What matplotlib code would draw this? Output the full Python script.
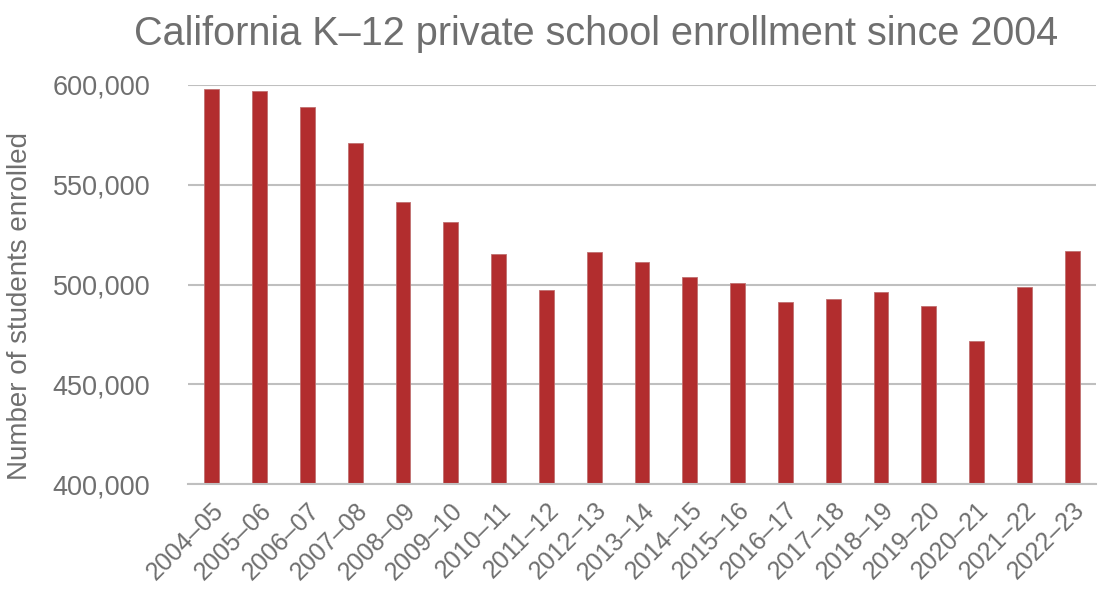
import numpy as np
import matplotlib
matplotlib.use("Agg")
import matplotlib.pyplot as plt
from matplotlib.ticker import FuncFormatter

# School years and total private school enrollment
years = ["2004–05", "2005–06", "2006–07", "2007–08", "2008–09", "2009–10",
         "2010–11", "2011–12", "2012–13", "2013–14", "2014–15", "2015–16",
         "2016–17", "2017–18", "2018–19", "2019–20", "2020–21", "2021–22",
         "2022–23"]
enrollment = [598000, 597000, 589100, 570800, 541200, 531200,
              515200, 497100, 516300, 511300, 503800, 500700,
              491300, 492600, 496100, 489100, 471700, 498600,
              516800]

TEXT = "#6f6f6f"
BAR = "#b22d2e"
GRID = "#bfbfbf"

plt.rcParams["font.family"] = ["Liberation Sans", "DejaVu Sans"]

fig = plt.figure(figsize=(10.98, 5.89), dpi=100)
ax = fig.add_axes([0.1712, 0.178, 0.827, 0.6778])

x = np.arange(len(years))
ax.bar(x, enrollment, width=0.31, color=BAR, edgecolor="#c07070",
       linewidth=0.6, zorder=3)

ax.set_xlim(-0.5, len(years) - 0.5)
ax.set_ylim(400000, 600000)
ax.set_yticks(np.arange(400000, 600001, 50000))
ax.yaxis.set_major_formatter(FuncFormatter(lambda v, p: f"{int(v):,}"))

ax.grid(axis="y", color=GRID, linewidth=1.5, zorder=0)
for side in ["top", "right", "left"]:
    ax.spines[side].set_visible(False)
ax.spines["bottom"].set_color(GRID)
ax.spines["bottom"].set_linewidth(1.5)
ax.spines["bottom"].set_zorder(4)

ax.set_xticks(x)
ax.set_xticklabels(years, rotation=45, ha="right", rotation_mode="anchor")
ax.tick_params(axis="x", length=0, pad=10, labelsize=18, labelcolor=TEXT)
ax.tick_params(axis="y", length=0, pad=27, labelsize=19.5, labelcolor=TEXT)

ax.set_ylabel("Number of students enrolled", fontsize=20, color=TEXT)
ax.yaxis.set_label_coords(-0.171, 0.446)
fig.suptitle("California K–12 private school enrollment since 2004",
             x=0.543, y=0.975, fontsize=28.5, color=TEXT)

fig.savefig("out.png", dpi=100)
